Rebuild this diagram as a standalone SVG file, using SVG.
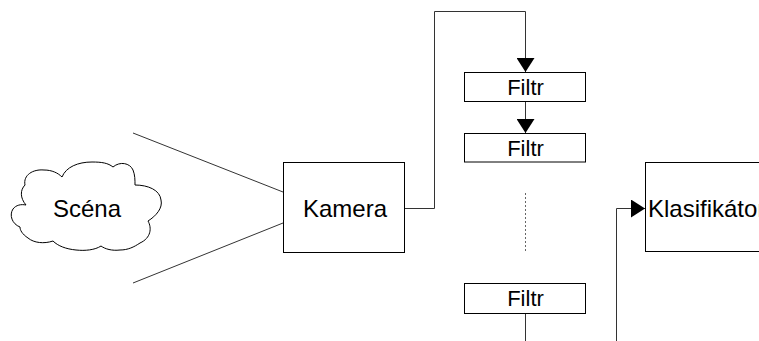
<svg xmlns="http://www.w3.org/2000/svg" width="759" height="341" viewBox="0 0 759 341">
<style>
.box{fill:#fff;stroke:#000;stroke-width:1}
.lbl{font-family:"Liberation Sans",Arial,sans-serif;font-size:24px;fill:#000}
.flbl{font-family:"Liberation Sans",Arial,sans-serif;font-size:22px;fill:#000;text-anchor:middle}
.conn{fill:none;stroke:#333;stroke-width:1}
.dot{fill:none;stroke:#666;stroke-width:1;stroke-dasharray:2,2}
</style>
<defs>
<marker id="arr" viewBox="0 0 14 18" refX="14" refY="9" markerWidth="14" markerHeight="18" orient="auto" markerUnits="userSpaceOnUse">
<path d="M0,0 L14,9 L0,18 Z" fill="#000"/>
</marker>
</defs>
<rect width="759" height="341" fill="#fff"/>
<g id="connectors">
<path class="conn" d="M133,133 L283,192"/>
<path class="conn" d="M133,283 L283,223"/>
<path class="conn" d="M404,208.5 H434.5 V11.5 H525.5 V72" marker-end="url(#arr)"/>
<path class="conn" d="M525.5,102 V133" marker-end="url(#arr)"/>
<path class="dot" d="M525.5,193 V251"/>
<path class="conn" d="M525.5,314 V341"/>
<path class="conn" d="M616.5,341 V208.5 H645" marker-end="url(#arr)"/>
</g>
<g id="scena">
<path class="box" d="M25,185 C23,175 33,169 44,170 C52,170 58,173 62,177 C66,167 78,162 92,162 C102,162 108,163 113,167 C120,161 130,163 133,170 C135,175 135,180 135,185 C148,185 160,190 161,200 C163,208 156,216 148,221 C152,228 151,238 140,243 C134,247 128,250 120,250 C112,251 105,249 101,246 C95,250 85,251 76,250 C66,249 58,246 53,241 C44,244 34,243 28,238 C22,234 20,230 20,227 C12,224 9,215 13,209 C16,205 21,204 26,205 C20,198 20,190 25,185 Z"/>
<text class="lbl" x="87" y="217" text-anchor="middle">Scéna</text>
</g>
<g id="kamera">
<rect class="box" x="283.5" y="162.5" width="121" height="90"/>
<text class="lbl" x="345" y="217" text-anchor="middle">Kamera</text>
</g>
<g id="filtr1">
<rect class="box" x="464.5" y="72.5" width="121" height="29"/>
<text class="flbl" x="525.5" y="95">Filtr</text>
</g>
<g id="filtr2">
<rect class="box" x="464.5" y="133.5" width="121" height="28.5"/>
<text class="flbl" x="525.5" y="156">Filtr</text>
</g>
<g id="filtr3">
<rect class="box" x="464.5" y="283.5" width="121" height="30"/>
<text class="flbl" x="525.5" y="306">Filtr</text>
</g>
<g id="klasifikator">
<rect class="box" x="645.5" y="162.5" width="200" height="89"/>
<text class="lbl" x="648" y="217">Klasifikátor</text>
</g>
</svg>
